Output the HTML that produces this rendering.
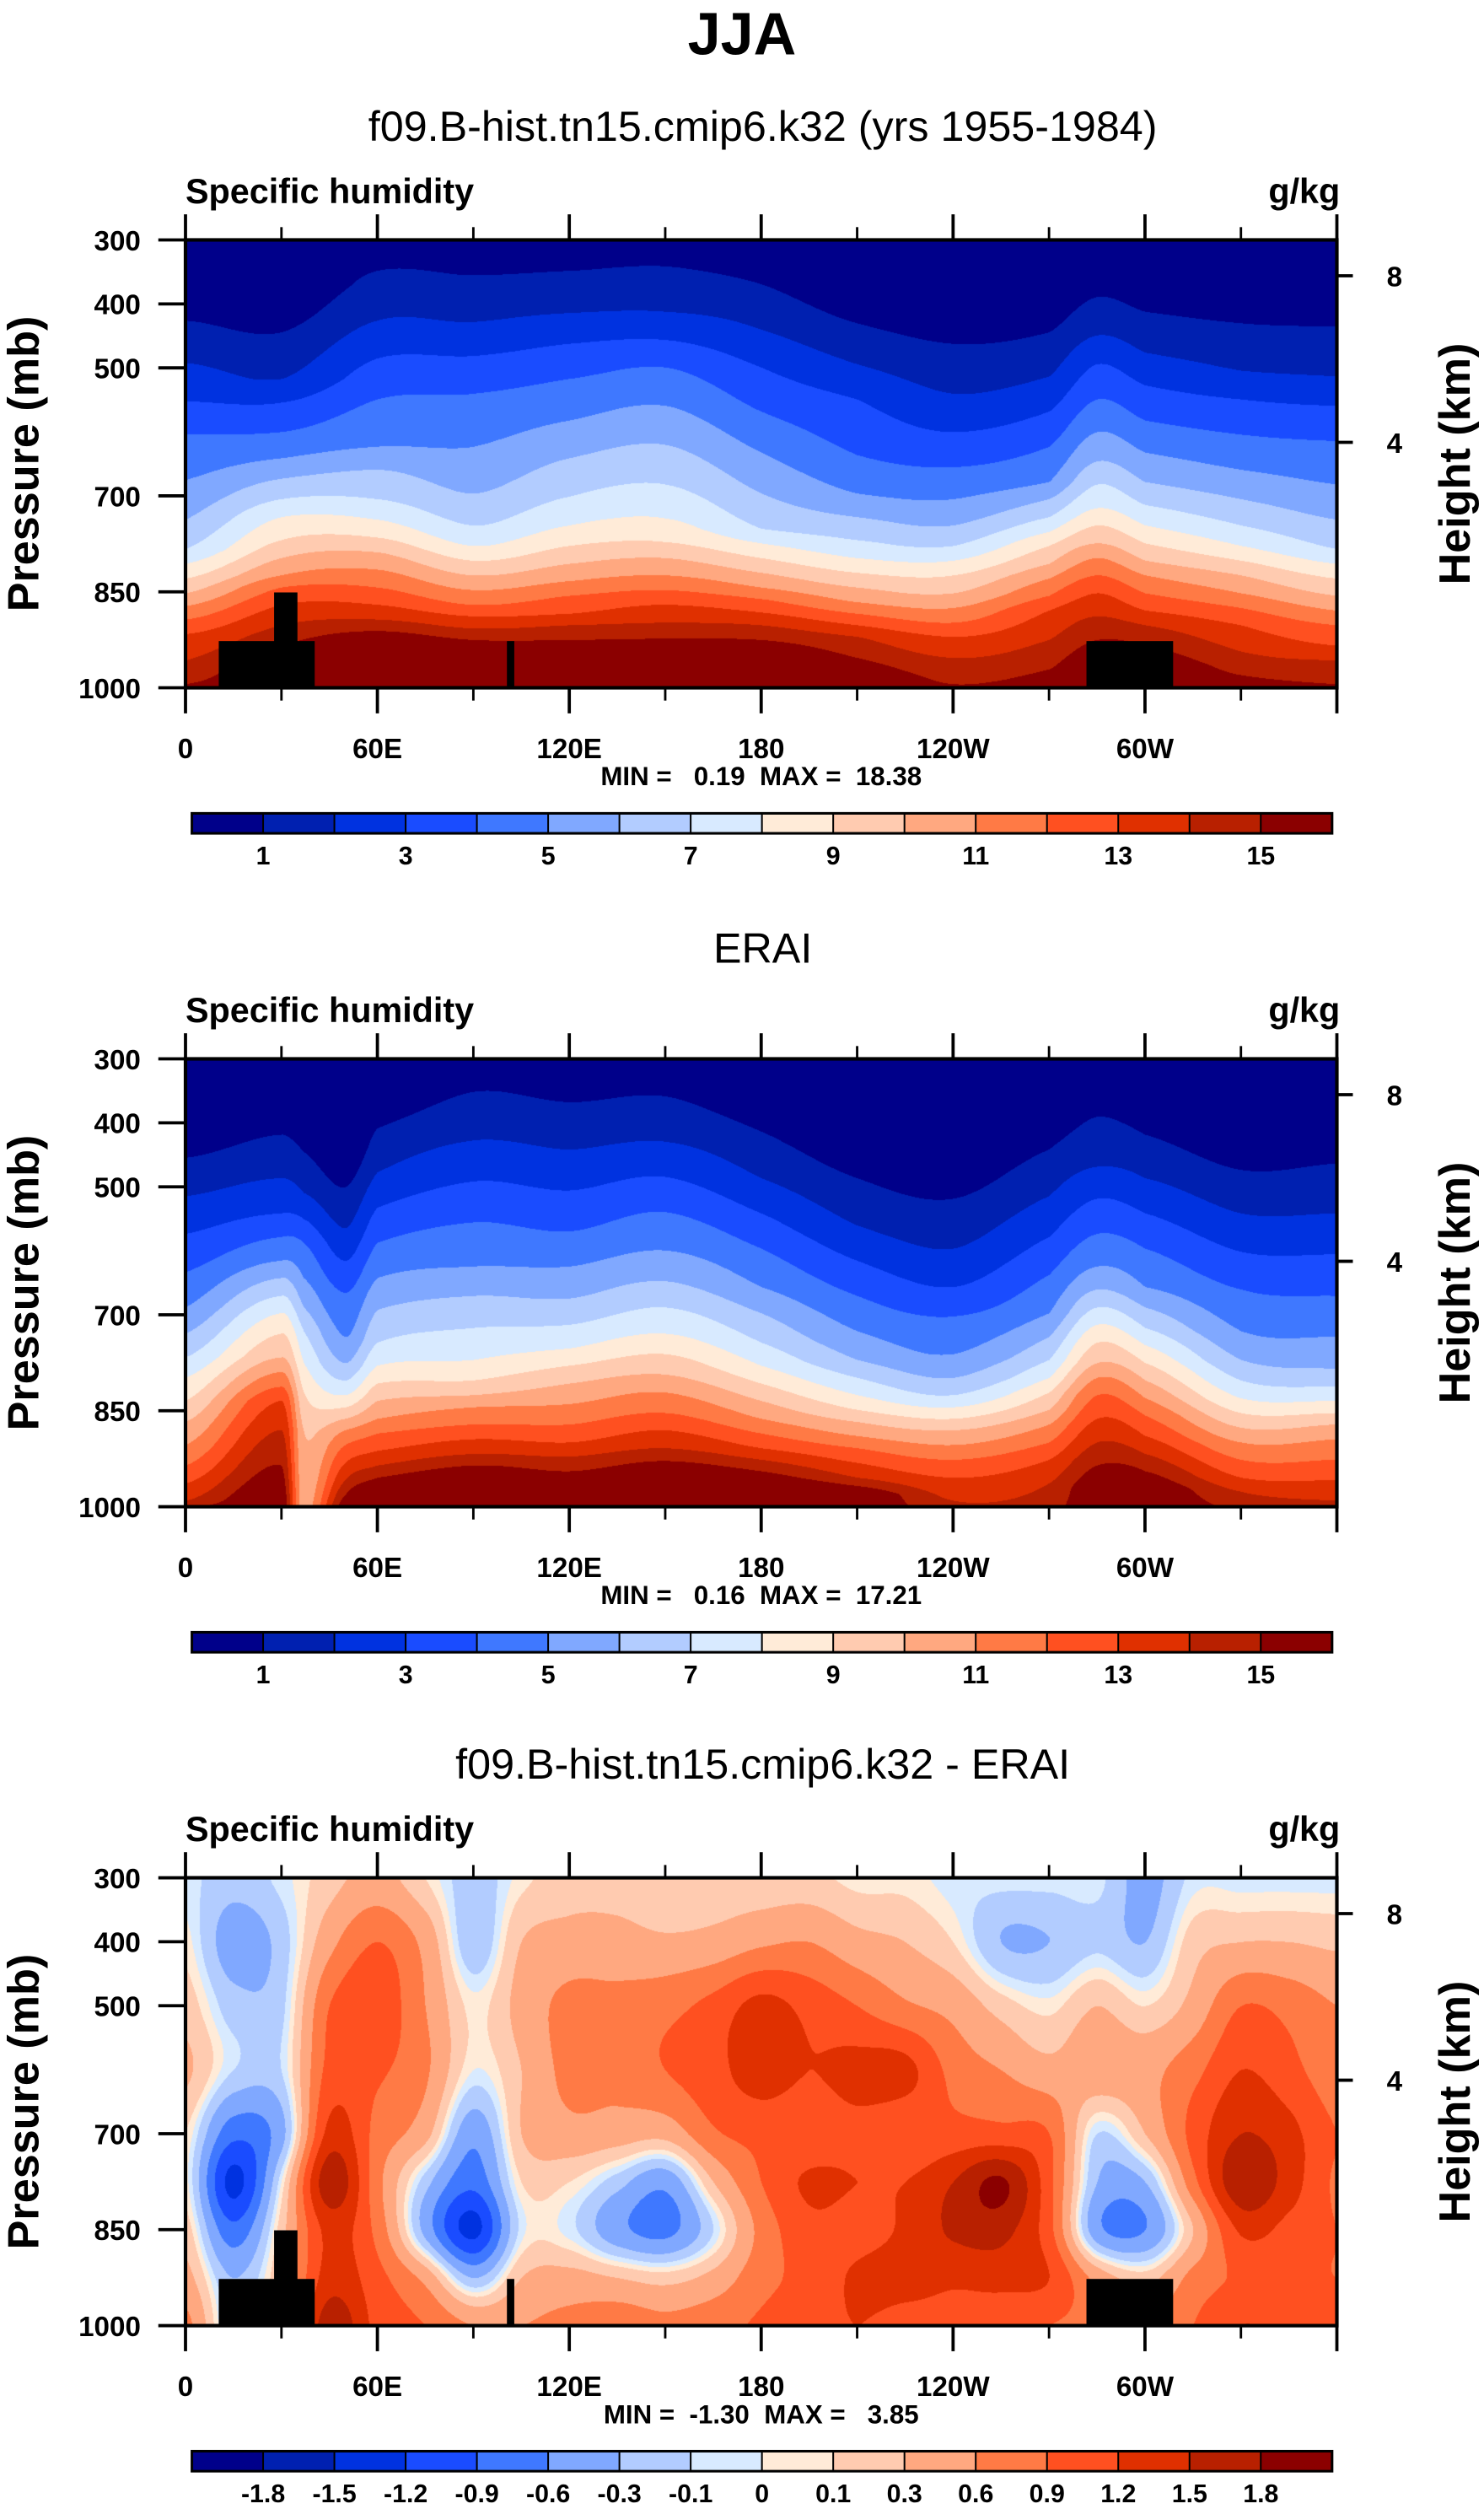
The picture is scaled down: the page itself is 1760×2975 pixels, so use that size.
<!DOCTYPE html>
<html><head><meta charset="utf-8">
<style>
html,body{margin:0;padding:0;background:#fff;}
body{width:1760px;height:2975px;position:relative;overflow:hidden;}
canvas{position:absolute;}
svg{position:absolute;left:0;top:0;}
text{font-family:"Liberation Sans",sans-serif;fill:#000;}
</style></head>
<body>
<canvas id="c0"></canvas>
<canvas id="c1"></canvas>
<canvas id="c2"></canvas>
<svg id="svg" width="1760" height="2975" viewBox="0 0 928 1568.64">
<text x="464" y="34" text-anchor="middle" font-size="37" font-weight="bold">JJA</text>
<text x="477" y="88" text-anchor="middle" font-size="26.5">f09.B-hist.tn15.cmip6.k32 (yrs 1955-1984)</text>
<text x="477" y="602" text-anchor="middle" font-size="26.5">ERAI</text>
<text x="477" y="1112" text-anchor="middle" font-size="26.5">f09.B-hist.tn15.cmip6.k32 - ERAI</text>
<text x="476" y="491" text-anchor="middle" font-size="16.5" font-weight="bold" xml:space="preserve">MIN =   0.19  MAX =  18.38</text>
<text x="476" y="1003" text-anchor="middle" font-size="16.5" font-weight="bold" xml:space="preserve">MIN =   0.16  MAX =  17.21</text>
<text x="476" y="1515" text-anchor="middle" font-size="16.5" font-weight="bold" xml:space="preserve">MIN =  -1.30  MAX =   3.85</text>
</svg>
<script>
// ---------- data ----------
const lonTickVals = [0, 60, 120, 180, 240, 300];
const lonTickLabels = ['0', '60E', '120E', '180', '120W', '60W'];
const presTickVals = [300, 400, 500, 700, 850, 1000];
const heightTickKm = [4, 8];
const qLevels = [1,2,3,4,5,6,7,8,9,10,11,12,13,14,15];
const qCbarLabels = ['1','3','5','7','9','11','13','15'];
const diffLevels = [-1.8,-1.5,-1.2,-0.9,-0.6,-0.3,-0.1,0,0.1,0.3,0.6,0.9,1.2,1.5,1.8];
const diffCbarLabels = ['-1.8','-1.5','-1.2','-0.9','-0.6','-0.3','-0.1','0','0.1','0.3','0.6','0.9','1.2','1.5','1.8'];
const palette = ['#00008a','#0020b0','#0032e0','#1a4cff','#3f78ff','#80a8ff','#b2ccff','#d8eaff',
                 '#ffebd8','#ffcbb0','#ffa880','#ff7a45','#ff5020','#e03000','#b82000','#8b0000'];

// model: pressure (mb) where q crosses each level 1..15, per longitude
const modelLons = [0,30,60,90,120,150,180,210,240,270,285,300,330,360];
const modelContourP = [
 [427,493,553,605,676,738,784,807,830,853,873,894,917,958,995],
 [445,518,555,601,642,674,706,734,770,798,825,844,871,903,935],
 [349,427,486,550,624,660,706,738,766,789,816,844,871,894,912],
 [356,429,482,541,624,697,747,779,802,825,848,871,889,908,926],
 [349,415,463,518,583,642,702,747,779,807,834,857,885,903,926],
 [342,413,457,500,560,621,683,736,773,798,825,848,871,899,924],
 [370,441,500,569,633,697,752,775,798,821,844,862,883,903,926],
 [431,495,550,637,697,734,770,798,821,844,867,885,903,921,954],
 [463,541,601,656,706,747,779,802,825,853,876,899,921,954,995],
 [445,514,569,624,679,706,734,757,779,807,830,857,880,926,972],
 [390,450,495,550,601,647,683,720,747,775,798,825,853,889,926],
 [413,477,528,583,633,679,715,747,775,802,825,853,880,903,935],
 [431,505,550,605,660,706,747,779,802,825,853,876,903,944,981],
 [436,514,560,615,683,738,784,807,830,857,880,903,935,958,995]
];
// ERAI
const eraiLons = [0,30,37,50,60,90,120,150,180,210,240,270,285,300,330,360];
const eraiContourP = [
 [454,514,573,633,688,729,766,798,834,867,903,935,963,990,1002],
 [418,486,541,578,615,642,670,697,729,766,789,812,834,880,935],
 [445,509,550,587,642,688,725,775,821,880,1100,1150,1200,1250,1300],
 [500,564,615,665,734,775,802,825,844,862,880,903,931,958,981],
 [408,477,532,587,642,692,743,779,807,834,862,885,912,935,954],
 [351,427,491,555,624,670,720,770,802,825,844,871,894,917,935],
 [367,441,505,569,624,674,715,752,779,807,839,871,899,921,944],
 [358,429,484,539,599,647,688,729,761,793,821,853,880,908,928],
 [413,486,541,596,656,697,743,779,807,834,862,885,908,926,944],
 [486,560,615,670,725,770,798,825,848,867,889,908,931,954,967],
 [518,596,656,702,761,798,825,844,862,880,903,926,954,990,1027],
 [441,514,578,637,697,734,770,798,821,848,871,899,926,963,1027],
 [390,468,518,573,624,660,688,715,743,775,798,825,862,899,935],
 [418,486,541,596,656,688,720,747,775,802,830,857,889,917,944],
 [473,541,601,660,725,770,802,830,853,876,899,926,954,976,1008],
 [463,541,605,670,734,784,812,834,853,871,894,926,958,990,1027]
];
// difference (g/kg) grid: per longitude, values at diffPres
const diffLons = [0,15,30,45,60,75,90,105,120,135,150,165,180,195,210,225,240,255,270,285,300,315,330,345,360];
const diffPres = [300,400,500,600,700,775,850,925,1000];
const diffValues = [
 [-0.05,0.05,0.2,0.35,0.1,0.05,0.2,0.4,0.7],
 [-0.2,-0.45,-0.2,-0.1,-0.8,-1.3,-0.8,-0.3,-0.2],
 [-0.05,-0.2,-0.15,-0.1,-0.4,0,0.2,0.3,0.4],
 [0.2,0.5,0.9,1.0,1.3,1.7,1.3,1.35,1.7],
 [0.4,0.9,1.1,0.95,0.8,0.7,0.8,1.0,1.1],
 [0.1,0.5,0.6,0.65,0.4,-0.2,-0.4,0.5,0.9],
 [-0.2,-0.25,0.05,0.0,-0.5,-0.8,-1.3,-0.3,0.6],
 [0.05,0.3,0.4,0.3,0.3,0.1,-0.05,0.3,0.6],
 [0.2,0.4,0.7,0.7,0.5,0.1,-0.05,0.4,0.7],
 [0.2,0.4,0.7,0.7,0.45,-0.2,-0.5,0.3,0.8],
 [0.1,0.35,0.8,0.9,0.4,-0.5,-0.7,0.2,0.7],
 [0.15,0.4,1.0,1.1,0.85,0.3,-0.1,0.4,0.8],
 [0.15,0.55,1.3,1.35,1.0,0.9,0.7,0.8,0.95],
 [0.15,0.6,1.1,1.2,1.0,1.25,1.1,1.0,1.1],
 [0.05,0.4,0.9,1.3,1.1,1.2,1.1,1.25,1.2],
 [0.05,0.3,0.65,1.3,0.95,1.2,1.25,1.3,1.1],
 [-0.05,0.1,0.5,0.8,1.0,1.5,1.55,1.25,1.1],
 [-0.05,-0.3,0.2,0.6,1.0,1.85,1.6,1.3,1.0],
 [-0.05,-0.3,0.05,0.4,0.9,1.0,1.0,1.2,0.9],
 [-0.05,-0.15,0.3,0.5,-0.1,-0.3,-0.5,0.5,0.8],
 [-0.4,-0.3,0.1,0.5,0.3,-0.3,-0.6,0.2,0.6],
 [-0.05,0.2,0.4,0.8,1.0,0.8,0.3,0.7,0.9],
 [-0.05,0.3,0.9,1.2,1.5,1.75,1.25,0.95,1.2],
 [-0.05,0.3,0.8,1.0,1.3,1.35,1.1,0.95,1.1],
 [-0.05,0.25,0.6,0.7,0.9,0.85,0.9,0.9,1.0]
];
// topography masks
const mtnLonStart = [10.4, 27.7, 100.5, 281.7];
const mtnLonEnd   = [40.4, 35.0, 102.8, 308.8];
const mtnTopP     = [927, 851, 927, 927];

// ---------- layout ----------
const S = 1760/928;
const PX0 = 116, PW = 720, PH = 280;
const panelTop = [150, 662, 1174];
const xOf = lon => PX0 + lon/360*PW;
const yOf = (p, i) => panelTop[i] + (p-300)/700*PH;
const pOfKm = km => 1013.25*Math.pow(1-2.25577e-5*km*1000, 5.25588);
const NS = 'http://www.w3.org/2000/svg';
const svg = document.getElementById('svg');
function el(tag, attrs, txt){
  const e = document.createElementNS(NS, tag);
  for (const k in attrs) e.setAttribute(k, attrs[k]);
  if (txt !== undefined) e.textContent = txt;
  svg.appendChild(e); return e;
}
function hexRGB(h){return [parseInt(h.substr(1,2),16),parseInt(h.substr(3,2),16),parseInt(h.substr(5,2),16)];}
const palRGB = palette.map(hexRGB);

function findBracket(arr, v){
  let a = 0;
  while (a < arr.length-2 && v > arr[a+1]) a++;
  const t = Math.max(0, Math.min(1, (v-arr[a])/(arr[a+1]-arr[a])));
  return [a, t];
}
// Catmull-Rom weights (clamped indices)
function crW(t){
  const t2=t*t, t3=t2*t;
  return [(-t3+2*t2-t)/2, (3*t3-5*t2+2)/2, (-3*t3+4*t2+t)/2, (t3-t2)/2];
}
function qFromContours(c, p){
  if (p <= c[0]) return Math.max(0, 1 - (c[0]-p)/(c[1]-c[0]));
  for (let k=0;k<c.length-1;k++){
    if (p <= c[k+1]) return (k+1) + (p-c[k])/(c[k+1]-c[k]);
  }
  return Math.min(16, 15 + (p-c[14])/(c[14]-c[13]));
}

function renderField(idx, kind){
  const cv = document.getElementById('c'+idx);
  const W = Math.round(PW*S), H = Math.round(PH*S);
  cv.width = W; cv.height = H;
  cv.style.left = (PX0*S)+'px'; cv.style.top = (panelTop[idx]*S)+'px';
  cv.style.width = W+'px'; cv.style.height = H+'px';
  const ctx = cv.getContext('2d');
  const img = ctx.createImageData(W, H);
  const d = img.data;
  const lonsArr = kind==='model'?modelLons:(kind==='erai'?eraiLons:diffLons);
  const nL = lonsArr.length;
  for (let i=0;i<W;i++){
    const lon = (i+0.5)/W*360;
    const [a,t] = findBracket(lonsArr, lon);
    const w = crW(t);
    const ids = [Math.max(0,a-1), a, a+1, Math.min(nL-1,a+2)];
    for (let j=0;j<H;j++){
      const p = 300 + (j+0.5)/H*700;
      let band;
      if (kind==='diff'){
        const [b,u] = findBracket(diffPres, p);
        const wu = crW(u);
        const nb = diffPres.length;
        const bi = [Math.max(0,b-1), b, b+1, Math.min(nb-1,b+2)];
        let v = 0;
        for (let m=0;m<4;m++){
          const col = diffValues[ids[m]];
          let cv2 = 0;
          for (let n=0;n<4;n++) cv2 += wu[n]*col[bi[n]];
          v += w[m]*cv2;
        }
        band = 0; while (band < diffLevels.length && v >= diffLevels[band]) band++;
      } else {
        const tab = kind==='model'?modelContourP:eraiContourP;
        let q = 0;
        for (let m=0;m<4;m++) q += w[m]*qFromContours(tab[ids[m]], p);
        band = 0; while (band < qLevels.length && q >= qLevels[band]) band++;
      }
      const c = palRGB[band];
      const o = (j*W+i)*4;
      d[o]=c[0]; d[o+1]=c[1]; d[o+2]=c[2]; d[o+3]=255;
    }
  }
  ctx.putImageData(img,0,0);
}
renderField(0,'model');
renderField(1,'erai');
renderField(2,'diff');

// ---------- axes / decorations ----------
for (let i=0;i<3;i++){
  const top = panelTop[i], bot = top+PH;
  if (i !== 1){
    for (let m=0;m<mtnLonStart.length;m++){
      const r = el('rect',{x:xOf(mtnLonStart[m]), y:yOf(mtnTopP[m],i), width:xOf(mtnLonEnd[m])-xOf(mtnLonStart[m]), height:yOf(1000,i)-yOf(mtnTopP[m],i), fill:'#000'});
      
      
    }
  }
  const fr = el('rect',{x:PX0, y:top, width:PW, height:PH, fill:'none', stroke:'#000', 'stroke-width':2.2});
  
  
  for (let lon=0; lon<=360; lon+=30){
    const major = lon%60===0;
    const len = major?16:8;
    const x = xOf(lon);
    const tb = el('line',{x1:x,y1:bot,x2:x,y2:bot+len,stroke:'#000','stroke-width':major?2:1.5});
    
    
    const tt = el('line',{x1:x,y1:top,x2:x,y2:top-len,stroke:'#000','stroke-width':major?2:1.5});
    
    
  }
  for (let k=0;k<lonTickVals.length;k++){
    const tx = el('text',{x:xOf(lonTickVals[k]), y:bot+44, 'text-anchor':'middle','font-size':17.5,'font-weight':'bold'}, lonTickLabels[k]);
    
    
  }
  for (let k=0;k<presTickVals.length;k++){
    const y = yOf(presTickVals[k], i);
    const ln = el('line',{x1:PX0-17,y1:y,x2:PX0,y2:y,stroke:'#000','stroke-width':2});
    
    
    const tx = el('text',{x:88, y:y+6.5, 'text-anchor':'end','font-size':17.5,'font-weight':'bold'}, String(presTickVals[k]));
    
    
  }
  for (let k=0;k<heightTickKm.length;k++){
    const y = yOf(pOfKm(heightTickKm[k]), i);
    const ln = el('line',{x1:PX0+PW,y1:y,x2:PX0+PW+10,y2:y,stroke:'#000','stroke-width':2});
    
    
    const tx = el('text',{x:872, y:y+6.5, 'text-anchor':'middle','font-size':17.5,'font-weight':'bold'}, String(heightTickKm[k]));
    
    
  }
  const yt = el('text',{x:0,y:0,'text-anchor':'middle','font-size':27.5,'font-weight':'bold',transform:`translate(24,${top+140}) rotate(-90)`}, 'Pressure (mb)');
  
  
  const ht = el('text',{x:0,y:0,'text-anchor':'middle','font-size':27.5,'font-weight':'bold',transform:`translate(919,${top+140}) rotate(-90)`}, 'Height (km)');
  
  
  const lt = el('text',{x:116, y:top-23, 'font-size':21.8,'font-weight':'bold'}, 'Specific humidity');
  
  
  const ut = el('text',{x:838, y:top-23, 'text-anchor':'end','font-size':21.8,'font-weight':'bold'}, 'g/kg');
  
  

  const cbX = 120, cbW = 713, cbY = top+358.5, cbH = 12.5;
  const n = palette.length, w = cbW/n;
  for (let k=0;k<n;k++){
    const r = el('rect',{x:cbX+k*w, y:cbY, width:w, height:cbH, fill:palette[k], stroke:'#000','stroke-width':1});
    
    
  }
  const ob = el('rect',{x:cbX, y:cbY, width:cbW, height:cbH, fill:'none', stroke:'#000','stroke-width':1.6});
  
  
  if (i < 2){
    for (let k=0;k<qCbarLabels.length;k++){
      const tx = el('text',{x:cbX+(2*k+1)*w, y:cbY+32, 'text-anchor':'middle','font-size':16,'font-weight':'bold'}, qCbarLabels[k]);
      
      
    }
  } else {
    for (let k=0;k<diffCbarLabels.length;k++){
      const tx = el('text',{x:cbX+(k+1)*w, y:cbY+32, 'text-anchor':'middle','font-size':16,'font-weight':'bold'}, diffCbarLabels[k]);
      
      
    }
  }
}
</script>
</body></html>
